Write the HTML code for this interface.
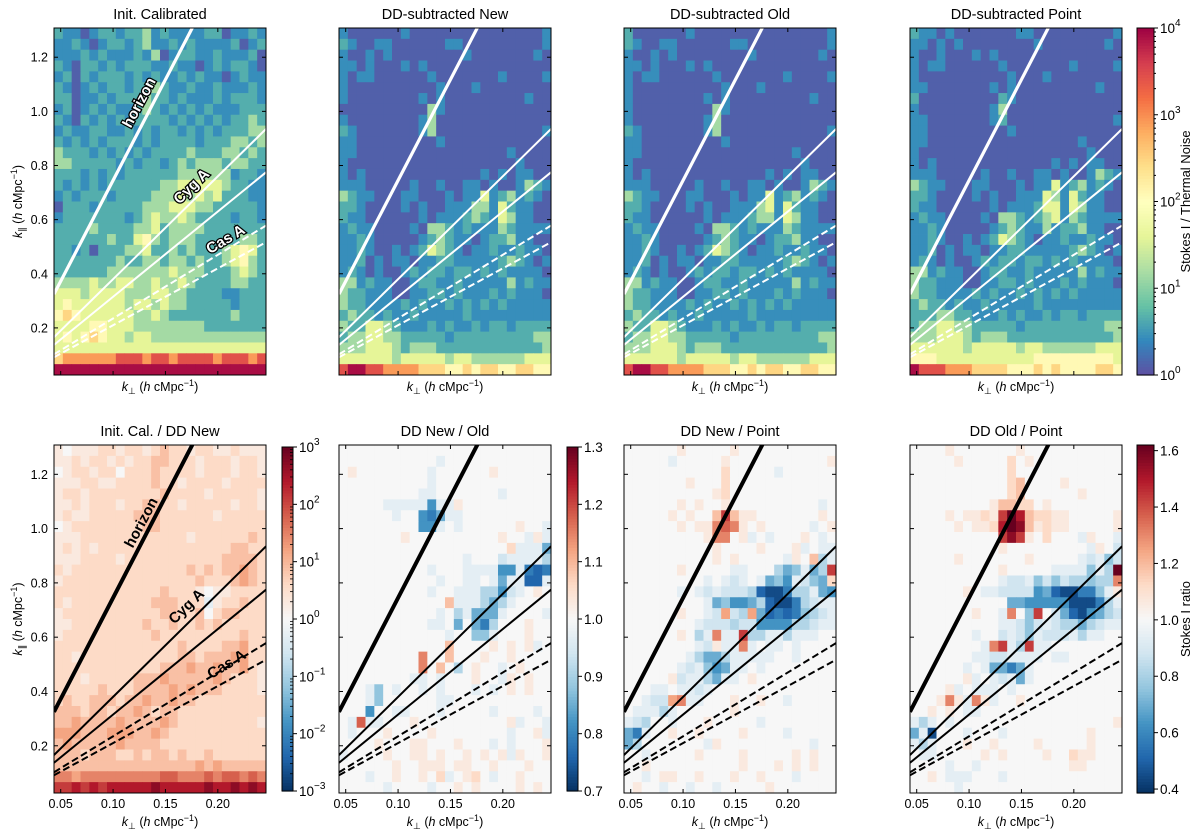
<!DOCTYPE html>
<html><head><meta charset="utf-8"><style>
html,body{margin:0;padding:0;background:#fff;}
svg{display:block;font-family:"Liberation Sans","DejaVu Sans",sans-serif;}
</style></head><body>
<svg id="fig" width="1200" height="839" viewBox="0 0 1200 839" xmlns="http://www.w3.org/2000/svg"></svg>
<script>
// ---------- data ----------
const xTickVals = [0.05, 0.10, 0.15, 0.20];
const xTickLabels = ["0.05", "0.10", "0.15", "0.20"];
const yTickVals = [0.2, 0.4, 0.6, 0.8, 1.0, 1.2];
const yTickLabels = ["0.2", "0.4", "0.6", "0.8", "1.0", "1.2"];
const topTitles = ["Init. Calibrated", "DD-subtracted New", "DD-subtracted Old", "DD-subtracted Point"];
const botTitles = ["Init. Cal. / DD New", "DD New / Old", "DD New / Point", "DD Old / Point"];
const lineSlopes = [7.45, 3.8, 3.15, 2.35, 2.1];  // horizon, Cyg A (2), Cas A (2)
const cbTopExp = [0, 1, 2, 3, 4];
const cb1Exp = [-3, -2, -1, 0, 1, 2, 3];
const cb2Ticks = [0.7, 0.8, 0.9, 1.0, 1.1, 1.2, 1.3];
const cb3Ticks = [0.4, 0.6, 0.8, 1.0, 1.2, 1.4, 1.6];
// top-row level -> normalised log10(S/N)/4
const topLevelT = [0.03, 0.11, 0.165, 0.29, 0.4, 0.52, 0.62, 0.73, 0.86, 0.98];
const topInit = [
"211012212231211112201121","112101221231121211112012","111212111213012211211120","210221212221121101212210",
"120212221212112121101211","210121221223211211211121","220112122232212111212221","120121211232121212111222",
"210212121222212121212232","121122112121221212122233","212121222121222212223323","322212121212222322233232",
"332222212122123233323322","222121212222223333331221","212121222222334444432211","121222122223334343422211",
"022212222233344433222221","122222221234334322221221","222232222334233332222222","222222322453233322222332",
"221202223342232322234542","222222232233233232234532","222222333333343332223432","333343344334334322223322",
"444344443334433222211222","454444443443433222221222","565444444334322222223222","444455444333333332222222",
"454565443443333333333333","444444444444444444444444","677777788878878888788878","999999999999999999999999"];
const topNew = [
"100000010000000000000001","210011000000110000000001","100101000000001000000010","110100010100000000000000",
"101100000010000000100001","100000000001000100000000","100000000101000000000100","000000000031000000000000",
"100000000130000000000000","210000000130000000000001","110000000001000000000000","110000000000000000010000",
"100000000000000000001000","101000000000000010101100","111000001001001101001321","321100011000101141231210",
"221000010100111331421100","211000000101112321431100","121100001033212111321111","112100000123211012231100",
"112100101243210112112110","112010110112211111232101","121010012122122121211110","331211001221121111131211",
"322111001122121112121110","322111121211212121211111","232212112111112111111111","322443211121211212212222",
"233443322222122222222233","333444323332222222222223","444444344444344333333444","899887777666556566556655"];
const topOld = [
"200000010000000000000001","210011000000110000000001","100101000000001000000010","110100010100000000000000",
"101100000010000000100001","100000000001000100000000","100000000101000000000100","100000000031000000000000",
"100000000130000000000000","210000000130000000000001","110000000001000000000000","110000000000000000010000",
"100000000000000000001000","101000000000000010101100","111000001001001101001321","321100011000101141231210",
"221000010100111341421100","211000000101112331431100","121100001033212111321111","112100000123211012231100",
"112100101243210112112110","112010110112211111232101","121010012122122121211110","331211001221121111131211",
"322111001122121112121110","322111121211212121211111","232212112111112111111111","322443211121211212212222",
"233443322222122222222233","333444323332222222222223","444444344444344333333444","899887777666556566556655"];
const topPoint = [
"211010000000110000000001","110101000000001000000010","100100010100000000000000","101100000010000000100001",
"100000000001000100000000","110000000101000000000100","200000000021000000000000","100000000130000000000000",
"110000000120000000000001","110000000001000000000000","110000000000000000010000","100000000000000000001000",
"101000000000000010101100","111000001001001101001321","321100011000101141231210","221000010100111431421100",
"211000000101112441431100","121100001033212341321111","112100000123211312231100","112100101243210112112110",
"112010110112211111232101","121010012122122121211110","331211001221121111131211","322111001122121112121110",
"322111121211212121211111","232212112111112111111111","222332211121211212212222","233443322222122222222233",
"333444323332222222222223","444444344444344333333444","555444444444445555555554","988877766665556565555665"];
// bottom-row levels: 'a'..'u' -> colour position 0..1 ('k' or '.' = 1.0 ratio)
const ratioInit = [
"lklllmmlmmlmnmmlmmllmlll","llmlmmlmlmmnnmmmlmmmlmml","klmmlmmkmmmnmmmmlmmmlmml","lllmmllmmmmnmmlmmmmlmmmm",
"lmmlmmmmmmmmnmmmmlmmmmml","llmlmmmlmmnnmmlmmmmmlmml","lmllmmmmmnnnmmmmmmlmmmmm","klmmmmmmmmnnmmmmmmmmmmmm",
"lllmmmmmmmmmmmmlmmmmmmnm","lmlmlmmmmmmmmmmmmmmmnnmm","lllmmmmlmmmmmmmmmmmnnnnm","mlmmmmmmmmmmmmmnmnmnnonm",
"lmmmmmmmmmmmmmmmnmmmnonm","mmmmmmmmmmmmnmmmlkllmmmm","mlmmmmmmmmmnnnmmmjlmmnmm","lmmmmmmmmmmmnnmmnkmnnmmm",
"llmmmmmmmmnmmnmmnmnmmmmm","lmmmmmmmmmmnmmmmmmmmmnmm","mmmmmmmmmmmmmmnmmmmnnomm","mmlmmmmmmmmmmmnnmnnnoomm",
"mmmmmmmmmmmmnnnonnonnoml","mmmlmmmmmnnnonnnnnonmmml","mmmmmnmmmnnnnononnnmmmml","mnmmnnnmnnonnonnmmmmmmmm",
"nnnmnnmnnonmnnmmmmmmmmmm","nnonnnnonnnnonmmmmmmmmml","ooonnnooonnonmmmmmmmmmmm","nonnnnnonnnnmmmmmmmmmmmm",
"nnnmnnnmmnmnnmnmmnmmmmmm","nnnnnnnnnnnnnnnnononnnnn","ppopppppppppqqpppqpqqpqp","rrsrsrssssstssssstsststs"];
const ratioNewOld = [
"........................","...........j............",".l........j......l......","..........j.............",
".........jj.......j.....",".....jjjjjejjl..........","......j..edfjj..........",".........eej.j......l..j",
".......l..........l..jlj","...................mjjjf","..............j...ijjjjh","..........j...jjjjeejdcd",
"...........j..jj.jfjjccj","..........j..jjjhheij.l.","............njjjhfhj....","...........j.hjfffj....j",
"..........jj.f.fdh...l..","............j..ggj...l..","............n....l.l.lj.",".........p..n...l..l....",
".........p.n.h.l..j.l...","........jj.j...l..jl.l..","...jg.j..j.j...j.j.l.l..","...jg......jj...........",
"...e..jj...j.....j....j.",".jqjj...l..........lj..j",".j...l....l........j..lj","....l...ll...l...j.j...l",
"j....l..ll.l..l.l.ljl..l","......l..lll.ll..l...l..","...j..l..l.mj.lm.j..l...",".....j....j..l.l....l.l."];
const ratioNewPoint = [
"......l.....l...........",".....j.....l...........l","...........m.....j......",".......l...m............",
"..........lm............","......l.l..l..........j.",".....l.l..nrnll.......l.","......l.llpqpl.l.....j.l",
".........lpp.lj.j...l.j.","..........l....l...lj.jj","..........l.l.....jl.nhj","......l.....jj...hfgjfhr",
".........j.jij.jfgejigfm","......j.jijiiihcbbdhhjfe",".........jfgeefhcbbdhijj","......l..jioihofcdcdghij",
"........jiiihiieeeehhijj","......l.hjpjjrhhjjhjjj..","........jiljjpj.jj.j....",".......jhffhjjjjj..j....",
"......jijgefjj.j........",".....lijjhfjj.l.........","...jj.jjij..............","..jiiopjj...l..l..j.....",
".jjjhj......l...........","jih..j...l.....j........","fdj..l..l....l....j.....","fh.......jl..........j..",
"..j.....l....l.....l.l..","..l..........l...l.l.l..","..j.ll..l...l..l...j....",".l..j..j..j.....l......."];
const ratioOldPoint = [
"....l.......l...........",".....l.....m.l..........","...........m............","...........mn....l......",
"...........mn......l....",".........lnnmm.l........","....l.llmlrusnmmll.....l",".....l.llmsutnlmll.....l",
"..........rtrl.m...jl..j","..........l.........jl.i",".....l.......l.....jijgi","..........l.....jjjjgjhu",
"..........jiijgigihhghhp","......l.jjiiiiefcbbddgjl","...........ffeeeeebbbdhj",".......l..jp.gr.ifcbefhi",
"..........jjigijihhfhijj",".......j..ijigjiiijhjj..","........jprjhrjj........",".......jjiijjjj.jj......",
"......j.jffdfj..........","......lj.jijfj..........","....lj.jjj.j............","...lpljplj..l...........",
"..l.l.jj................","jhj.j..................l","fjb...j...j.........l...","jhj...l..l....l.....l...",
".jj.....l.l....l..mll...","....j..j..........ll....","..l.jjj...j.............",".....j.................."];

// ---------- geometry ----------
const NS = "http://www.w3.org/2000/svg";
const svg = document.getElementById("fig");
const PX = [54, 339, 624, 910], PW = 212;
const TOPY = 28, TOPH = 347, BOTY = 445, BOTH = 348;
const XMIN = 0.0436, XMAX = 0.246, YMIN = 0.026, YMAX = 1.308;
const NCOL = 24, NROW = 32;
function xs(v, px) { return px + (v - XMIN) / (XMAX - XMIN) * PW; }
function ys(v, py, ph) { return py + (YMAX - v) / (YMAX - YMIN) * ph; }

const spectral = [[94,79,162],[50,136,189],[102,194,165],[171,221,164],[230,245,152],[255,255,191],[254,224,139],[253,174,97],[244,109,67],[213,62,79],[158,1,66]];
const rdbu = [[5,48,97],[33,102,172],[67,147,195],[146,197,222],[209,229,240],[247,247,247],[253,219,199],[244,165,130],[214,96,77],[178,24,43],[103,0,31]];
function cmap(stops, t) {
  t = Math.max(0, Math.min(1, t));
  const f = t * (stops.length - 1), i = Math.min(stops.length - 2, Math.floor(f)), r = f - i;
  const a = stops[i], b = stops[i + 1];
  return "rgb(" + [0,1,2].map(k => Math.round(a[k] + (b[k] - a[k]) * r)).join(",") + ")";
}
function mk(tag, attrs, parent) {
  const e = document.createElementNS(NS, tag);
  for (const k in attrs) e.setAttribute(k, attrs[k]);
  (parent || svg).appendChild(e);
  return e;
}
function levelTop(ch) { return topLevelT[parseInt(ch, 10)]; }
function levelRatio(ch) { return ch === "." ? 0.5 : (ch.charCodeAt(0) - 97) / 20; }

function axisLabelX(x, y, parent) {
  const t = mk("text", {x: x, y: y, "text-anchor": "middle", "font-size": 12.5, fill: "#000"}, parent);
  t.innerHTML = '<tspan font-style="italic">k</tspan><tspan font-size="9" dy="3">⊥</tspan><tspan dy="-3">  (</tspan><tspan font-style="italic">h</tspan><tspan> cMpc</tspan><tspan font-size="9" dy="-5">−1</tspan><tspan dy="5">)</tspan>';
  return t;
}
function axisLabelY(x, y, parent) {
  const t = mk("text", {x: 0, y: 0, "text-anchor": "middle", "font-size": 12.5, fill: "#000", transform: "translate(" + x + "," + y + ") rotate(-90)"}, parent);
  t.innerHTML = '<tspan font-style="italic">k</tspan><tspan font-size="9" dy="3">∥</tspan><tspan dy="-3">  (</tspan><tspan font-style="italic">h</tspan><tspan> cMpc</tspan><tspan font-size="9" dy="-5">−1</tspan><tspan dy="5">)</tspan>';
  return t;
}

function drawPanel(p, py, ph, rows, levelFn, stops, isTop, title) {
  const px = PX[p];
  const g = mk("g", {});
  
  
  const clipId = "clip" + (isTop ? "t" : "b") + p;
  const cp = mk("clipPath", {id: clipId}, g);
  mk("rect", {x: px, y: py, width: PW, height: ph}, cp);
  const hm = mk("g", {"clip-path": "url(#" + clipId + ")"}, g);
  
  
  const dx = (XMAX - XMIN) / NCOL, dy = (YMAX - YMIN) / NROW;
  for (let i = 0; i < NROW; i++) {
    const row = (rows[i] || "").padEnd(NCOL, isTop ? "0" : ".");
    for (let j = 0; j < NCOL; j++) {
      const x0 = xs(XMIN + j * dx, px), x1 = xs(XMIN + (j + 1) * dx, px);
      const y0 = ys(YMAX - i * dy, py, ph), y1 = ys(YMAX - (i + 1) * dy, py, ph);
      const c = mk("rect", {x: x0, y: y0, width: x1 - x0 + 0.4, height: y1 - y0 + 0.4, fill: cmap(stops, levelFn(row[j]))}, hm);
      
      
    }
  }
  const col = isTop ? "#fff" : "#000";
  const names = ["horizon-line", "cyg-a-line-upper", "cyg-a-line-lower", "cas-a-line-upper", "cas-a-line-lower"];
  lineSlopes.forEach((s, k) => {
    const l = mk("line", {x1: xs(XMIN, px), y1: ys(s * XMIN, py, ph), x2: xs(XMAX, px), y2: ys(s * XMAX, py, ph),
      stroke: col, "stroke-width": k === 0 ? (isTop ? 3.2 : 4) : 2, "stroke-dasharray": k >= 3 ? "7,3.5" : "none"}, hm);
    
    
  });
  const fr = mk("rect", {x: px, y: py, width: PW, height: ph, fill: "none", stroke: "#000", "stroke-width": 1}, g);
  
  
  xTickVals.forEach((v, k) => {
    const x = xs(v, px);
    mk("line", {x1: x, y1: py + ph, x2: x, y2: py + ph - 4, stroke: "#000"}, g);
    mk("line", {x1: x, y1: py, x2: x, y2: py + 4, stroke: "#000"}, g);
    if (!isTop) {
      const t = mk("text", {x: x, y: py + ph + 15, "text-anchor": "middle", "font-size": 12.5}, g);
      t.textContent = xTickLabels[k];
      
      
    }
  });
  yTickVals.forEach((v, k) => {
    const y = ys(v, py, ph);
    mk("line", {x1: px, y1: y, x2: px + 4, y2: y, stroke: "#000"}, g);
    mk("line", {x1: px + PW, y1: y, x2: px + PW - 4, y2: y, stroke: "#000"}, g);
    if (p === 0) {
      const t = mk("text", {x: px - 6, y: y + 4.5, "text-anchor": "end", "font-size": 12.5}, g);
      t.textContent = yTickLabels[k];
      
      
    }
  });
  const tt = mk("text", {x: px + PW / 2, y: py - 9, "text-anchor": "middle", "font-size": 14.5}, g);
  tt.textContent = title;
  
  
  const xl = axisLabelX(px + PW / 2, isTop ? py + ph + 16 : py + ph + 33, g);
  
  
  if (p === 0) {
    const yl = axisLabelY(22, py + ph / 2, g);
    
    
  }
  return g;
}

const topData = [topInit, topNew, topOld, topPoint];
const botData = [ratioInit, ratioNewOld, ratioNewPoint, ratioOldPoint];
for (let p = 0; p < 4; p++) drawPanel(p, TOPY, TOPH, topData[p], levelTop, spectral, true, topTitles[p]);
for (let p = 0; p < 4; p++) drawPanel(p, BOTY, BOTH, botData[p], levelRatio, rdbu, false, botTitles[p]);

function srcLabel(txt, x, y, ang, top) {
  const t = mk("text", {x: 0, y: 0, transform: "translate(" + x + "," + y + ") rotate(" + ang + ")", "text-anchor": "middle",
    "dominant-baseline": "middle", "font-size": 15, "font-weight": "bold", fill: top ? "#fff" : "#000",
    stroke: top ? "#000" : "none", "stroke-width": top ? 2.5 : 0, "paint-order": "stroke"});
  t.textContent = txt;
  
  
}
srcLabel("horizon", 140, 103, -62, true);
srcLabel("Cyg A", 192, 187, -44, true);
srcLabel("Cas A", 226, 240, -31, true);
srcLabel("horizon", 142, 523, -62, false);
srcLabel("Cyg A", 187, 607, -44, false);
srcLabel("Cas A", 227, 665, -31, false);

function colorbar(x, y, w, h, stops, name) {
  const g = mk("g", {});
  
  
  const N = 120;
  for (let i = 0; i < N; i++) {
    mk("rect", {x: x, y: y + h - (i + 1) * h / N, width: w, height: h / N + 0.6, fill: cmap(stops, (i + 0.5) / N)}, g);
  }
  mk("rect", {x: x, y: y, width: w, height: h, fill: "none", stroke: "#000", "stroke-width": 1}, g);
  return g;
}
function cbTickLabel(g, x, y, main, sup) {
  const t = mk("text", {x: x, y: y + 5, "font-size": 13.5}, g);
  if (sup !== undefined) t.innerHTML = main + '<tspan font-size="10" dy="-7">' + sup + '</tspan>';
  else t.textContent = main;
  
  
}
{
  const x = 1137, w = 17, y = TOPY, h = TOPH;
  const g = colorbar(x, y, w, h, spectral, "colorbar-stokes-thermal");
  const vy = e => y + h - (e - cbTopExp[0]) / (cbTopExp[cbTopExp.length - 1] - cbTopExp[0]) * h;
  cbTopExp.forEach(e => {
    mk("line", {x1: x + w, y1: vy(e), x2: x + w + 4, y2: vy(e), stroke: "#000"}, g);
    cbTickLabel(g, x + w + 6, vy(e), "10", e < 0 ? "−" + (-e) : String(e));
    if (e < cbTopExp[cbTopExp.length - 1]) for (let m = 2; m < 10; m++) {
      const yy = vy(e + Math.log10(m));
      mk("line", {x1: x + w, y1: yy, x2: x + w + 2, y2: yy, stroke: "#000"}, g);
    }
  });
  const l = mk("text", {x: 0, y: 0, transform: "translate(1190," + (y + h / 2) + ") rotate(-90)", "text-anchor": "middle", "font-size": 13}, g);
  l.textContent = "Stokes I / Thermal Noise";
  
  
}
{
  const x = 282, w = 11, y = BOTY + 2, h = BOTH - 4;
  const g = colorbar(x, y, w, h, rdbu, "colorbar-init-ratio");
  const lo = cb1Exp[0], hi = cb1Exp[cb1Exp.length - 1];
  const vy = e => y + h - (e - lo) / (hi - lo) * h;
  cb1Exp.forEach(e => {
    mk("line", {x1: x + w, y1: vy(e), x2: x + w + 4, y2: vy(e), stroke: "#000"}, g);
    cbTickLabel(g, x + w + 6, vy(e), "10", e < 0 ? "−" + (-e) : String(e));
    if (e < hi) for (let m = 2; m < 10; m++) {
      const yy = vy(e + Math.log10(m));
      mk("line", {x1: x + w - 3, y1: yy, x2: x + w, y2: yy, stroke: "#000", "stroke-width": 0.8}, g);
    }
  });
}
{
  const x = 567, w = 11, y = BOTY + 2, h = BOTH - 4;
  const g = colorbar(x, y, w, h, rdbu, "colorbar-new-old");
  const lo = cb2Ticks[0], hi = cb2Ticks[cb2Ticks.length - 1];
  cb2Ticks.forEach(v => {
    const yy = y + h - (v - lo) / (hi - lo) * h;
    mk("line", {x1: x + w, y1: yy, x2: x + w + 4, y2: yy, stroke: "#000"}, g);
    cbTickLabel(g, x + w + 6, yy, v.toFixed(1));
  });
}
{
  const x = 1137, w = 17, y = BOTY, h = BOTH;
  const lo = 0.386, hi = 1.62;
  const g = colorbar(x, y, w, h, rdbu, "colorbar-stokes-ratio");
  cb3Ticks.forEach(v => {
    const yy = y + h - (v - lo) / (hi - lo) * h;
    mk("line", {x1: x + w, y1: yy, x2: x + w + 4, y2: yy, stroke: "#000"}, g);
    cbTickLabel(g, x + w + 6, yy, v.toFixed(1));
  });
  const l = mk("text", {x: 0, y: 0, transform: "translate(1190," + (y + h / 2) + ") rotate(-90)", "text-anchor": "middle", "font-size": 13}, g);
  l.textContent = "Stokes I ratio";
  
  
}
</script>
</body></html>
